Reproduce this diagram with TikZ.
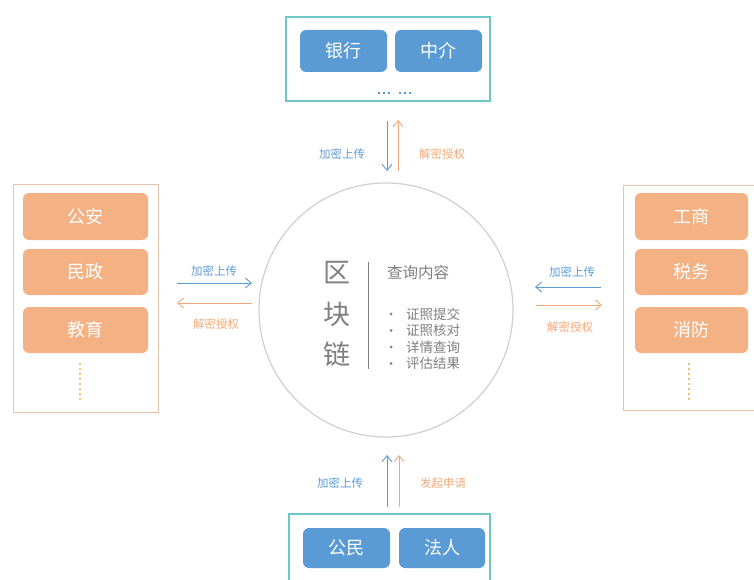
\documentclass[tikz,border=0pt]{standalone}
\usepackage{fontspec}
\setmainfont{Noto Sans CJK SC}
\usetikzlibrary{arrows.meta}
\definecolor{btnblue}{HTML}{5B9BD5}
\definecolor{btnorange}{HTML}{F4B183}
\definecolor{frameteal}{HTML}{6FC6C6}
\definecolor{frameorange}{HTML}{E9C4A6}
\definecolor{ringgray}{HTML}{CFCFCF}
\definecolor{textgray}{HTML}{7F7F7F}
\definecolor{lblblue}{HTML}{5B9BD5}
\definecolor{lblorange}{HTML}{F2A978}
\definecolor{dotyellow}{HTML}{EDC27A}
\tikzset{
  bluebtn/.style={fill=btnblue, rounded corners=6pt, text=white, font=\fontsize{18}{20}\selectfont, inner sep=0pt},
  orangebtn/.style={fill=btnorange, rounded corners=6pt, text=white, font=\fontsize{18}{20}\selectfont, inner sep=0pt},
  lbl/.style={font=\fontsize{11.5}{13}\selectfont, inner sep=0pt},
  bluearrow/.style={draw=lblblue, line width=0.9pt, -{Straight Barb[length=6pt,width=10pt]}},
  orangearrow/.style={draw=lblorange, line width=0.9pt, -{Straight Barb[length=6pt,width=10pt]}},
  tealframe/.style={draw=frameteal, line width=1.3pt},
  sideframe/.style={draw=frameorange, line width=1pt},
  dotrow/.style={line width=2pt, dash pattern=on 2pt off 3pt},
}
\begin{document}
\begin{tikzpicture}[x=1pt,y=-1pt]
\useasboundingbox (0,0) rectangle (754,580);

% top group: banks and agencies
\draw[tealframe] (286,17) rectangle (490,101);
\node[bluebtn, minimum width=87pt, minimum height=42pt] (bank) at (343.5,51) {银行};
\node[bluebtn, minimum width=87pt, minimum height=42pt] (agent) at (438.5,51) {中介};
\coordinate (tdots1a) at (378,93);
\coordinate (tdots1b) at (393,93);
\coordinate (tdots2a) at (399,93);
\coordinate (tdots2b) at (414,93);
\draw[dotrow, lblblue] (tdots1a) -- (tdots1b);
\draw[dotrow, lblblue] (tdots2a) -- (tdots2b);

% bottom group: citizens and legal persons
\draw[tealframe] (289,514) rectangle (490,590);
\node[bluebtn, minimum width=87pt, minimum height=40pt] (citizen) at (346.5,548) {公民};
\node[bluebtn, minimum width=86pt, minimum height=40pt] (legal) at (442,548) {法人};

% left group: government departments
\draw[sideframe] (13,184) rectangle (158,412);
\node[orangebtn, minimum width=125pt, minimum height=47pt] (police) at (85.5,216.5) {公安};
\node[orangebtn, minimum width=125pt, minimum height=46pt] (civil) at (85.5,272) {民政};
\node[orangebtn, minimum width=125pt, minimum height=46pt] (edu) at (85.5,330) {教育};
\coordinate (ldotsA) at (80,363);
\coordinate (ldotsB) at (80,400);
\draw[dotrow, dotyellow] (ldotsA) -- (ldotsB);

% right group: commerce, tax, fire
\draw[sideframe] (623,185) rectangle (770,410);
\node[orangebtn, minimum width=113pt, minimum height=47pt] (commerce) at (691.5,216.5) {工商};
\node[orangebtn, minimum width=113pt, minimum height=46pt] (tax) at (691.5,272) {税务};
\node[orangebtn, minimum width=113pt, minimum height=46pt] (fire) at (691.5,330) {消防};
\coordinate (rdotsA) at (689,363);
\coordinate (rdotsB) at (689,400);
\draw[dotrow, dotyellow] (rdotsA) -- (rdotsB);

% central blockchain ring
\node[circle, draw=ringgray, line width=1.2pt, minimum size=254pt, inner sep=0pt] (chain) at (386,310) {};
\node[text=textgray, font=\fontsize{27}{27}\selectfont, inner sep=0pt] (qu) at (337,273) {区};
\node[text=textgray, font=\fontsize{27}{27}\selectfont, inner sep=0pt] (kuai) at (337,314) {块};
\node[text=textgray, font=\fontsize{27}{27}\selectfont, inner sep=0pt] (lian) at (337,354) {链};
\coordinate (divtop) at (368,262);
\coordinate (divbot) at (368,369);
\draw[textgray, line width=0.8pt] (divtop) -- (divbot);
\node[text=textgray, font=\fontsize{15.5}{16}\selectfont, inner sep=0pt, anchor=west] (query) at (387,273) {查询内容};
\foreach \y/\t/\n in {314/证照提交/a, 330.5/证照核对/b, 347/详情查询/c, 363.5/评估结果/d}{
  \node[circle, fill=textgray, minimum size=3pt, inner sep=0pt] (bul\n) at (391,\y) {};
  \node[text=textgray, font=\fontsize{13.5}{14}\selectfont, inner sep=0pt, anchor=west] (item\n) at (406,\y) {\t};
}

% top exchange
\coordinate (tdA) at (387,121);
\coordinate (tdB) at (387,171);
\coordinate (tuA) at (398,171);
\coordinate (tuB) at (398,120);
\draw[bluearrow] (tdA) -- (tdB);
\draw[orangearrow] (tuA) -- (tuB);
\node[lbl, text=lblblue] (tupl) at (342,154) {加密上传};
\node[lbl, text=lblorange] (tdec) at (442,154) {解密授权};

% left exchange
\coordinate (lrA) at (177,283);
\coordinate (lrB) at (252,283);
\coordinate (llA) at (252,303);
\coordinate (llB) at (177,303);
\draw[bluearrow] (lrA) -- (lrB);
\draw[orangearrow] (llA) -- (llB);
\node[lbl, text=lblblue] (lupl) at (214,271) {加密上传};
\node[lbl, text=lblorange] (ldec) at (216,324) {解密授权};

% right exchange
\coordinate (rlA) at (601,287);
\coordinate (rlB) at (535,287);
\coordinate (rrA) at (536,305);
\coordinate (rrB) at (602,305);
\draw[bluearrow] (rlA) -- (rlB);
\draw[orangearrow] (rrA) -- (rrB);
\node[lbl, text=lblblue] (rupl) at (572,272) {加密上传};
\node[lbl, text=lblorange] (rdec) at (570,327) {解密授权};

% bottom exchange
\coordinate (buA) at (387,507);
\coordinate (buB) at (387,455);
\coordinate (boA) at (399,507);
\coordinate (boB) at (399,455);
\draw[bluearrow] (buA) -- (buB);
\draw[orangearrow] (boA) -- (boB);
\node[lbl, text=lblblue] (bupl) at (340,483) {加密上传};
\node[lbl, text=lblorange] (bapp) at (443,483) {发起申请};
\end{tikzpicture}
\end{document}
